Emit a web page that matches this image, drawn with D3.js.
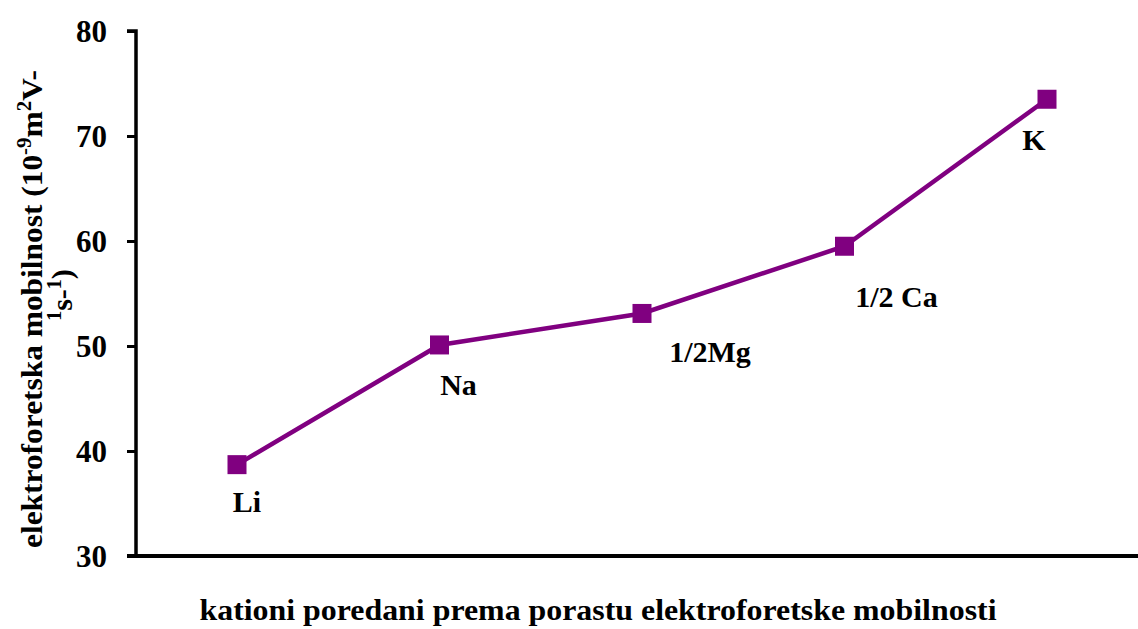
<!DOCTYPE html>
<html>
<head>
<meta charset="utf-8">
<script src="https://cdn.jsdelivr.net/npm/d3@7"></script>
<style>
  html, body { margin: 0; padding: 0; background: #fff; }
  svg { display: block; }
</style>
</head>
<body>
<svg id="chart" width="1138" height="629"></svg>
<script>
// Cations ordered by increasing electrophoretic mobility
const categories = ["Li", "Na", "1/2Mg", "1/2 Ca", "K"];
const mobility = [38.7, 50.1, 53.1, 59.5, 73.5];
const yTicks = [30, 40, 50, 60, 70, 80];

// label placement relative to each marker (layout only)
const labelOffsets = [[10, 47], [19, 50], [68, 49], [52, 61], [-13, 51]];

const FONT = "'Liberation Serif', 'Times New Roman', serif";
const svg = d3.select("#chart");
const margin = { left: 136, top: 31, bottom: 556 };
const purple = "#800080";

function bold(sel, size) {
  return sel.style("font-family", FONT).style("font-weight", "bold")
    .style("font-size", size + "px").style("fill", "#000");
}

const x = d3.scalePoint()
  .domain(categories)
  .range([237, 1047]);

const y = d3.scaleLinear()
  .domain([30, 80])
  .range([margin.bottom, margin.top]);

// Y axis
const yAxis = svg.append("g")
  .attr("transform", `translate(${margin.left},0)`)
  .call(d3.axisLeft(y).tickValues(yTicks).tickSize(9).tickPadding(20).tickFormat(d3.format("d")));
yAxis.select(".domain").attr("stroke", "#000").attr("stroke-width", 3.5)
  .attr("d", `M-9,${y(80)}H0V${y(30)}`);
yAxis.selectAll(".tick line").attr("stroke", "#000").attr("stroke-width", 3);
bold(yAxis.selectAll(".tick text"), 31).attr("dy", "0.34em");

// X axis line
svg.append("line")
  .attr("x1", margin.left - 9).attr("x2", 1138)
  .attr("y1", y(30)).attr("y2", y(30))
  .attr("stroke", "#000").attr("stroke-width", 4);

// Series line
const line = d3.line()
  .x((d, i) => x(categories[i]))
  .y(d => y(d));

svg.append("path")
  .datum(mobility)
  .attr("fill", "none")
  .attr("stroke", purple)
  .attr("stroke-width", 4.5)
  .attr("d", line);

// Square markers
const ms = 19;
svg.selectAll("rect.marker")
  .data(mobility)
  .join("rect")
  .attr("class", "marker")
  .attr("x", (d, i) => x(categories[i]) - ms / 2)
  .attr("y", d => y(d) - ms / 2)
  .attr("width", ms).attr("height", ms)
  .attr("fill", purple);

// Point labels
bold(svg.selectAll("text.plabel")
  .data(mobility)
  .join("text")
  .attr("class", "plabel")
  .attr("x", (d, i) => x(categories[i]) + labelOffsets[i][0])
  .attr("y", (d, i) => y(d) + labelOffsets[i][1])
  .attr("text-anchor", "middle")
  .text((d, i) => categories[i]), 30);

// X axis title
bold(svg.append("text")
  .attr("x", 598).attr("y", 620)
  .attr("text-anchor", "middle")
  .attr("textLength", 797)
  .attr("lengthAdjust", "spacingAndGlyphs")
  .text("kationi poredani prema porastu elektroforetske mobilnosti"), 30);

// Y axis title (two lines, rotated)
const yt = svg.append("g").attr("transform", "translate(0,309) rotate(-90)");
const t1 = bold(yt.append("text")
  .attr("x", 0).attr("y", 42)
  .attr("text-anchor", "middle")
  .attr("textLength", 478)
  .attr("lengthAdjust", "spacingAndGlyphs"), 30);
t1.append("tspan").text("elektroforetska mobilnost (10");
t1.append("tspan").attr("dy", -11).style("font-size", "20px").text("-9");
t1.append("tspan").attr("dy", 11).text("m");
t1.append("tspan").attr("dy", -11).style("font-size", "20px").text("2");
t1.append("tspan").attr("dy", 11).text("V-");

const t2 = bold(yt.append("text")
  .attr("x", 14).attr("y", 72)
  .attr("text-anchor", "middle"), 30);
t2.append("tspan").attr("dy", -11).style("font-size", "20px").text("1");
t2.append("tspan").attr("dy", 11).text("s-");
t2.append("tspan").attr("dy", -11).style("font-size", "20px").text("1");
t2.append("tspan").attr("dy", 11).text(")");
</script>
</body>
</html>
